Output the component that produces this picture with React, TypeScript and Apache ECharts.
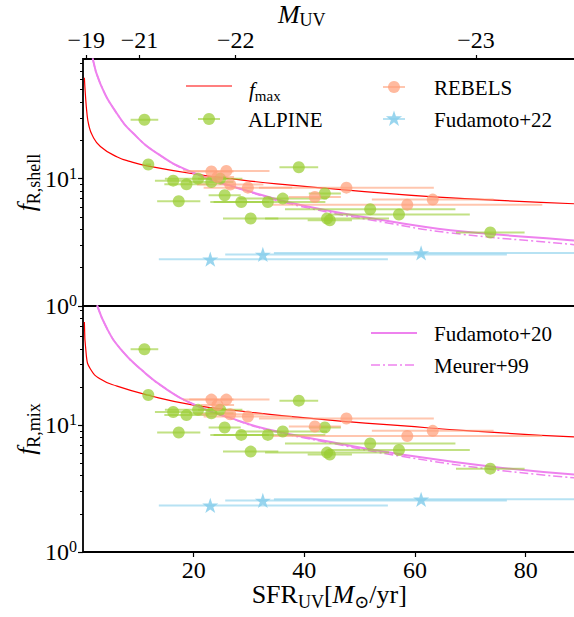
import React, { useEffect, useRef } from 'react';
import * as echarts from 'echarts';

const FONT = "'Liberation Serif', 'DejaVu Serif', serif";

// ---- axes ----
const X_MIN = 0;
const X_MAX = 89;
const Y_MIN = 1;
const Y_MAX = 87;
const mUvTickSfr = [0.6, 10.2, 27.6, 71.0];
const mUvTickLabels = ['−19', '−21', '−22', '−23'];
const sfrTicks = [20, 40, 60, 80];
const logMajor = [1, 10];
const logMinor = [2, 3, 4, 5, 6, 7, 8, 9, 20, 30, 40, 50, 60, 70, 80];

// ---- ALPINE ----
const alpineSfr = [11.1, 11.8, 39.0, 16.3, 18.7, 20.8, 23.2, 24.8, 17.3, 25.6, 28.6, 33.4, 36.1, 30.3, 43.7, 44.1, 44.6, 51.9, 57.1, 73.6];
const alpineErr = [2.5, 0.5, 3.5, 3.3, 4.0, 6.0, 4.0, 4.0, 3.9, 2.9, 5.0, 10.4, 8.0, 5.0, 2.9, 11.2, 4.0, 15.4, 12.8, 6.2];
const alpineShell = [29.0, 12.9, 12.3, 9.64, 9.02, 10.0, 9.40, 10.0, 6.64, 7.40, 6.56, 6.56, 6.97, 4.86, 7.64, 4.86, 4.71, 5.75, 5.23, 3.78];
const alpineMix = [39.7, 17.3, 15.6, 12.7, 12.0, 13.2, 12.4, 13.2, 8.75, 9.59, 8.38, 8.38, 8.92, 6.19, 9.59, 6.08, 5.86, 7.16, 6.37, 4.54];

// ---- REBELS ----
const rebelsSfr = [23.2, 25.9, 24.3, 26.6, 29.8, 41.9, 47.6, 58.6, 63.2];
const rebelsErr = [4.0, 7.8, 3.0, 6.0, 8.0, 4.7, 15.8, 24.4, 11.0];
const rebelsShell = [11.4, 11.5, 10.3, 8.98, 8.50, 7.18, 8.50, 6.25, 6.85];
const rebelsMix = [15.9, 15.9, 14.4, 12.2, 11.7, 9.77, 11.3, 8.22, 9.02];

// ---- Fudamoto+22 ----
const f22Sfr = [23.0, 32.5, 61.1];
const f22Lo = [13.7, 25.7, 34.5];
const f22Hi = [55.1, 76.6, 100];
const f22Shell = [2.33, 2.54, 2.61];
const f22Mix = [2.33, 2.55, 2.60];

// ---- curves (top: f_R,shell) ----
const fmaxShellSfr = [0.25, 0.43, 0.7, 1.03, 1.7, 3.14, 6.2, 8.6, 11.6, 20.6, 26.6, 35, 48.3, 63.4, 89.5];
const fmaxShellF = [62, 46, 33, 26.5, 21.8, 17.9, 14.8, 13.6, 12.6, 10.8, 10.0, 9.1, 8.1, 7.2, 6.33];
const f20ShellSfr = [1.75, 3.14, 6.16, 9.16, 13.4, 19.4, 30.3, 39.3, 54.3, 66.4, 88.1, 89.5];
const f20ShellF = [88, 55.5, 32.3, 22.5, 15.8, 11.4, 7.9, 6.2, 4.71, 3.94, 3.29, 3.25];
const m99ShellF = [88, 55.5, 32.3, 22.5, 15.8, 11.3, 7.8, 6.07, 4.55, 3.75, 3.05, 3.0];

// ---- curves (bottom: f_R,mix) ----
const fmaxMixSfr = [0.25, 0.6, 1.34, 3.14, 6.16, 11.6, 20, 30, 39.3, 48.3, 57.4, 70, 89.5];
const fmaxMixF = [65, 35.4, 27.7, 23.1, 20.3, 17.3, 14.4, 12.7, 11.5, 10.6, 9.9, 9.0, 8.05];
const f20MixSfr = [2.55, 4.36, 6.76, 10.4, 15.0, 20.6, 27.2, 33.3, 45.3, 57.4, 75.4, 89.5];
const f20MixF = [88, 57.5, 40.0, 27.7, 19.3, 14.2, 11.2, 9.3, 7.30, 5.89, 4.62, 4.07];
const m99MixF = [88, 57.5, 40.0, 27.7, 19.3, 14.2, 11.1, 9.2, 7.15, 5.7, 4.4, 3.83];

const C_RED = '#ff0000';
const C_VIOLET = '#ee82ee';
const C_GREEN = '#9acd32';
const C_SALMON = '#ffa07a';
const C_SKY = '#87ceeb';
const ALPHA = 0.72;

const STAR_PATH =
  'path://M0,-1L0.2245,-0.309L0.9511,-0.309L0.3633,0.118L0.5878,0.809L0,0.382L-0.5878,0.809L-0.3633,0.118L-0.9511,-0.309L-0.2245,-0.309Z';

const zip = (xs: number[], ys: number[]) => xs.map((x, i) => [x, ys[i]]);

const errRender = (color: string) => (_params: any, api: any) => {
  const y = api.value(2);
  const p1 = api.coord([api.value(0), y]);
  const p2 = api.coord([api.value(1), y]);
  return {
    type: 'line',
    shape: { x1: p1[0], y1: p1[1], x2: p2[0], y2: p2[1] },
    style: { stroke: color, lineWidth: 2, opacity: 0.6 },
  };
};

function panelSeries(xi: number, yi: number, d: any) {
  const base = { xAxisIndex: xi, yAxisIndex: yi, silent: true };
  return [
    {
      ...base, type: 'line', name: 'fmax', data: zip(d.fmaxX, d.fmaxY), symbol: 'none',
      smooth: 0.5, lineStyle: { color: C_RED, width: 1.2 }, z: 3,
    },
    {
      ...base, type: 'line', name: 'Fudamoto+20', data: zip(d.f20X, d.f20Y), symbol: 'none',
      smooth: 0.5, lineStyle: { color: C_VIOLET, width: 2 }, z: 3,
    },
    {
      ...base, type: 'line', name: 'Meurer+99', data: zip(d.f20X, d.m99Y), symbol: 'none',
      smooth: 0.5, lineStyle: { color: C_VIOLET, width: 1.5, type: [9, 3, 2, 3] }, z: 3,
    },
    {
      ...base, type: 'custom', name: 'alpineErr', clip: true, encode: { x: [0, 1], y: 2 },
      data: alpineSfr.map((x, i) => [x - alpineErr[i], x + alpineErr[i], d.alpine[i]]),
      renderItem: errRender(C_GREEN), z: 4,
    },
    {
      ...base, type: 'custom', name: 'rebelsErr', clip: true, encode: { x: [0, 1], y: 2 },
      data: rebelsSfr.map((x, i) => [x - rebelsErr[i], x + rebelsErr[i], d.rebels[i]]),
      renderItem: errRender(C_SALMON), z: 4,
    },
    {
      ...base, type: 'custom', name: 'f22Err', clip: true, encode: { x: [0, 1], y: 2 },
      data: f22Sfr.map((_x, i) => [f22Lo[i], f22Hi[i], d.f22[i]]),
      renderItem: errRender(C_SKY), z: 4,
    },
    {
      ...base, type: 'scatter', name: 'ALPINE', data: zip(alpineSfr, d.alpine), symbol: 'circle',
      symbolSize: 12, itemStyle: { color: C_GREEN, opacity: ALPHA }, z: 5,
    },
    {
      ...base, type: 'scatter', name: 'REBELS', data: zip(rebelsSfr, d.rebels), symbol: 'circle',
      symbolSize: 12, itemStyle: { color: C_SALMON, opacity: ALPHA }, z: 5,
    },
    {
      ...base, type: 'scatter', name: 'Fudamoto+22', data: zip(f22Sfr, d.f22), symbol: STAR_PATH,
      symbolKeepAspect: true, symbolSize: 16, itemStyle: { color: C_SKY, opacity: 0.85 }, z: 5,
    },
  ];
}

const tickLine = { color: '#000', width: 1.2 };
const labelRich = {
  sup: { fontFamily: FONT, fontSize: 16, color: '#000', padding: [0, 0, 11, 0] },
};
const titleRich = {
  i: { fontFamily: FONT, fontSize: 26, fontStyle: 'italic', color: '#000' },
  s: { fontFamily: FONT, fontSize: 18, color: '#000', padding: [16, 0, 0, 0] },
};
const topTitleRich = {
  i: { fontFamily: FONT, fontSize: 26, fontStyle: 'italic', color: '#000' },
  s: { fontFamily: FONT, fontSize: 18, color: '#000', padding: [11, 0, 0, 0] },
};
const legendRich = {
  i: { fontFamily: FONT, fontSize: 21, fontStyle: 'italic', color: '#000' },
  s: { fontFamily: FONT, fontSize: 15, color: '#000', padding: [12, 0, 0, 0] },
};

function yAxes(grid: number, title: string) {
  return [
    {
      gridIndex: grid, type: 'log', logBase: 10, min: Y_MIN, max: Y_MAX, position: 'left',
      axisLine: { show: false }, splitLine: { show: false },
      axisTick: { show: true, length: 5, customValues: logMajor, lineStyle: tickLine },
      axisLabel: {
        customValues: logMajor, margin: 6, fontFamily: FONT, fontSize: 24, color: '#000',
        formatter: (v: number) => `10{sup|${Math.round(Math.log10(v))}}`, rich: labelRich,
      },
      name: title, nameLocation: 'middle', nameRotate: 90, nameGap: 40, nameMoveOverlap: false,
      nameTextStyle: { fontFamily: FONT, fontSize: 26, color: '#000', rich: titleRich },
    },
    {
      gridIndex: grid, type: 'log', logBase: 10, min: Y_MIN, max: Y_MAX, position: 'left',
      axisLine: { show: false }, splitLine: { show: false },
      axisTick: { show: true, length: 3, customValues: logMinor, lineStyle: { color: '#000', width: 1 } },
      axisLabel: { show: false },
    },
  ];
}

function starPoints(cx: number, cy: number, R: number, r: number) {
  const pts: number[][] = [];
  for (let k = 0; k < 10; k++) {
    const a = -Math.PI / 2 + (k * Math.PI) / 5;
    const rad = k % 2 === 0 ? R : r;
    pts.push([cx + rad * Math.cos(a), cy + rad * Math.sin(a)]);
  }
  return pts;
}

function legendGraphics() {
  const txt = (x: number, y: number, text: string) => ({
    type: 'text', x, y, z: 100,
    style: { text, fontFamily: FONT, fontSize: 21, fill: '#000', align: 'left', verticalAlign: 'middle', rich: legendRich },
  });
  const line = (x1: number, x2: number, y: number, stroke: string, lw: number, dash?: number[], opacity = 1) => ({
    type: 'line', z: 100, shape: { x1, y1: y, x2, y2: y },
    style: { stroke, lineWidth: lw, lineDash: dash, opacity },
  });
  return [
    line(186, 232, 86, C_RED, 1.2),
    txt(249, 90, '{i|f}{s|max}'),
    line(383, 405, 87, C_SALMON, 2, undefined, 0.6),
    { type: 'circle', z: 100, shape: { cx: 394, cy: 87, r: 6 }, style: { fill: C_SALMON, opacity: ALPHA } },
    txt(434, 88, 'REBELS'),
    line(198, 220, 119, C_GREEN, 2, undefined, 0.6),
    { type: 'circle', z: 100, shape: { cx: 209, cy: 119, r: 6 }, style: { fill: C_GREEN, opacity: ALPHA } },
    txt(248, 120, 'ALPINE'),
    line(383, 405, 119, C_SKY, 2, undefined, 0.6),
    { type: 'polygon', z: 100, shape: { points: starPoints(394, 119, 8.5, 3.3) }, style: { fill: C_SKY, opacity: 0.85 } },
    txt(434, 120, 'Fudamoto+22'),
    line(371, 417, 333, C_VIOLET, 2),
    txt(434, 334, 'Fudamoto+20'),
    line(371, 417, 365, C_VIOLET, 1.5, [9, 3, 2, 3]),
    txt(434, 366, 'Meurer+99'),
  ];
}

function buildOption() {
  const gridW = 492.5;
  const border = {
    show: true, borderColor: '#000', borderWidth: 1.8, backgroundColor: 'transparent',
    containLabel: false, outerBoundsMode: 'none',
  };
  return {
    animation: false,
    grid: [
      { left: 83, top: 59, width: gridW, height: 247, ...border },
      { left: 83, top: 306, width: gridW, height: 246, ...border },
    ],
    xAxis: [
      {
        gridIndex: 0, type: 'value', min: X_MIN, max: X_MAX, position: 'bottom',
        axisLine: { show: false }, axisTick: { show: false }, axisLabel: { show: false }, splitLine: { show: false },
      },
      {
        gridIndex: 0, type: 'value', min: X_MIN, max: X_MAX, position: 'top',
        axisLine: { show: false }, splitLine: { show: false },
        axisTick: { show: true, length: 4, customValues: mUvTickSfr, lineStyle: tickLine },
        axisLabel: {
          customValues: mUvTickSfr, margin: 7, fontFamily: FONT, fontSize: 24, color: '#000',
          hideOverlap: false, alignMinLabel: 'center', alignMaxLabel: 'center',
          formatter: (v: number) => {
            let best = 0;
            mUvTickSfr.forEach((t, i) => { if (Math.abs(t - v) < Math.abs(mUvTickSfr[best] - v)) best = i; });
            return mUvTickLabels[best];
          },
        },
        name: '{i|M}{s|UV}', nameLocation: 'middle', nameGap: 30, nameMoveOverlap: false,
        nameTextStyle: { fontFamily: FONT, fontSize: 26, color: '#000', rich: topTitleRich, padding: [0, 55, 0, 0] },
      },
      {
        gridIndex: 1, type: 'value', min: X_MIN, max: X_MAX, position: 'bottom',
        axisLine: { show: false }, splitLine: { show: false },
        axisTick: { show: true, length: 5, customValues: sfrTicks, lineStyle: tickLine },
        axisLabel: { customValues: sfrTicks, margin: 6, fontFamily: FONT, fontSize: 24, color: '#000' },
        name: 'SFR{s|UV}[{i|M}{s|⊙}/yr]', nameLocation: 'middle', nameGap: 25, nameMoveOverlap: false,
        nameTextStyle: { fontFamily: FONT, fontSize: 26, color: '#000', rich: titleRich },
      },
    ],
    yAxis: [...yAxes(0, '{i|f}{s|R,shell}'), ...yAxes(1, '{i|f}{s|R,mix}')],
    series: [
      ...panelSeries(0, 0, {
        fmaxX: fmaxShellSfr, fmaxY: fmaxShellF, f20X: f20ShellSfr, f20Y: f20ShellF, m99Y: m99ShellF,
        alpine: alpineShell, rebels: rebelsShell, f22: f22Shell,
      }),
      ...panelSeries(2, 2, {
        fmaxX: fmaxMixSfr, fmaxY: fmaxMixF, f20X: f20MixSfr, f20Y: f20MixF, m99Y: m99MixF,
        alpine: alpineMix, rebels: rebelsMix, f22: f22Mix,
      }),
    ],
    graphic: legendGraphics(),
  };
}

export default function App() {
  const ref = useRef<HTMLDivElement>(null);
  useEffect(() => {
    document.body.style.margin = '0';
    document.body.style.overflow = 'hidden';
    const chart = echarts.init(ref.current!, null, { renderer: 'svg' });
    chart.setOption(buildOption() as any);
    return () => chart.dispose();
  }, []);
  return <div ref={ref} style={{ width: 574, height: 617 }} />;
}
